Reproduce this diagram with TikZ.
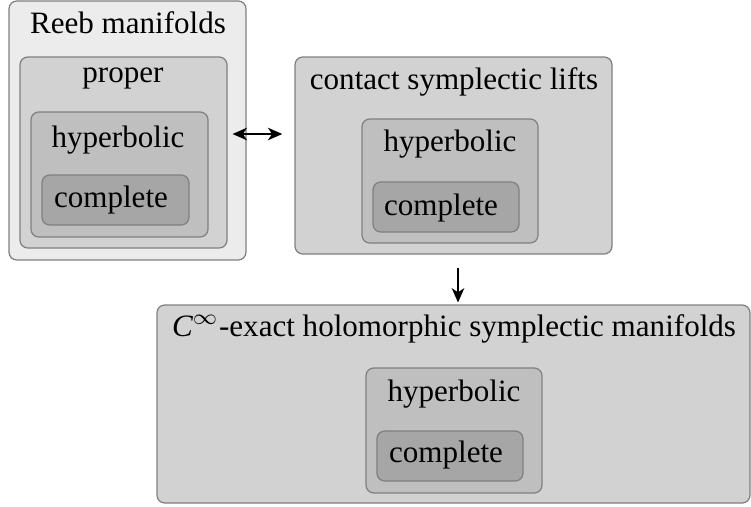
\documentclass[tikz,border=0pt]{standalone}
\usepackage{fontspec}
\setmainfont{Liberation Serif}
\usetikzlibrary{arrows.meta,fit}

\begin{document}
\begin{tikzpicture}[x=0.3218pt, y=-0.3218pt,
		box/.style={draw=gray, rounded corners=2.5pt, inner sep=0pt},
		lbl/.style={anchor=base, inner sep=0pt},
		arr/.style={line width=0.7pt, -{Stealth[length=4.6pt,width=4pt,inset=1.3pt]}},
		darr/.style={line width=0.7pt, {Stealth[length=4.6pt,width=4pt,inset=1.3pt]}-{Stealth[length=4.6pt,width=4pt,inset=1.3pt]}}]
	\useasboundingbox (0,0) rectangle (751,506);

	% Reeb manifolds
	\node[box, fill=gray!15, fit={(9,1) (246,260)}] (reeb) {};
	\node[box, fill=gray!35, fit={(20,57) (227,248)}] (proper) {};
	\node[box, fill=gray!50, fit={(31,112) (208,237)}] (hypA) {};
	\node[box, fill=gray!70, fit={(42,175) (189,225)}] (compA) {};
	\node[lbl] (reebtxt) at (128,33) {Reeb manifolds};
	\node[lbl] (propertxt) at (123,82) {proper};
	\node[lbl] (hypAtxt) at (118,147) {hyperbolic};
	\node[lbl] (compAtxt) at (111,207) {complete};

	% contact symplectic lifts
	\node[box, fill=gray!35, fit={(295,57) (612,254)}] (lifts) {};
	\node[box, fill=gray!50, fit={(362,119) (538,243)}] (hypB) {};
	\node[box, fill=gray!70, fit={(373,182) (519,232)}] (compB) {};
	\node[lbl] (liftstxt) at (454,89) {contact symplectic lifts};
	\node[lbl] (hypBtxt) at (450,151) {hyperbolic};
	\node[lbl] (compBtxt) at (441,215) {complete};

	% holomorphic symplectic manifolds
	\node[box, fill=gray!35, fit={(157,305) (750,503)}] (holo) {};
	\node[box, fill=gray!50, fit={(366,368) (542,493)}] (hypC) {};
	\node[box, fill=gray!70, fit={(377,431) (523,481)}] (compC) {};
	\node[lbl] (holotxt) at (454,336) {$\mathit{C}^\infty$-exact holomorphic symplectic manifolds};
	\node[lbl] (hypCtxt) at (454,401) {hyperbolic};
	\node[lbl] (compCtxt) at (446,462) {complete};

	% Arrows
	\coordinate (row) at (0,134);
	\coordinate (col) at (458,0);
	\draw[darr, shorten <=1.6pt, shorten >=3.9pt] (proper.east |- row) -- (lifts.west |- row);
	\draw[arr, shorten <=4.2pt, shorten >=0.6pt] (lifts.south -| col) -- (holo.north -| col);
\end{tikzpicture}
\end{document}
